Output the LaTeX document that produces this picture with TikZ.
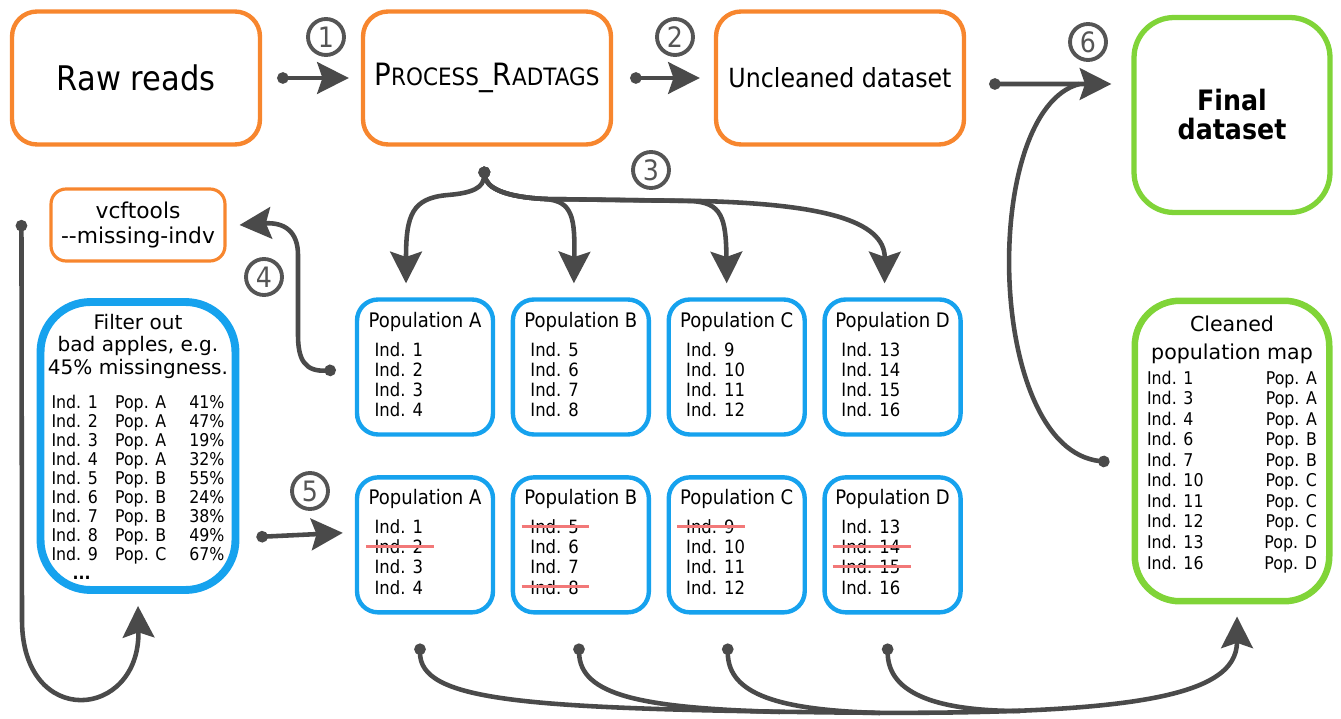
\documentclass[tikz,border=0pt]{standalone}
\usepackage{fontspec}
\setmainfont{DejaVu Sans}
\newfontfamily\condfont{DejaVu Sans}[FakeStretch=0.9]
\usetikzlibrary{arrows.meta, positioning}

\definecolor{radorange}{RGB}{247,134,46}
\definecolor{radblue}{RGB}{22,162,238}
\definecolor{radgreen}{RGB}{128,212,56}
\definecolor{linkgray}{RGB}{74,74,74}
\definecolor{numgray}{RGB}{85,85,85}
\definecolor{strikered}{RGB}{242,120,120}

% crossed out individuals
\newcommand{\struck}[1]{\setbox0\hbox{#1}#1\kern-\wd0\kern-5pt\textcolor{strikered}{\rule[0.32em]{\dimexpr\wd0+11pt\relax}{1.7pt}}\kern-6pt}
\newcommand{\poptitle}[1]{\multicolumn{1}{@{}l@{}}{\fontsize{11.4}{13}\selectfont Population #1}}

\begin{document}
\begin{tikzpicture}[x=0.02cm, y=0.02cm]
    \tikzstyle{stage} = [rectangle, rounded corners=0.5cm, minimum width=4.96cm, minimum height=2.66cm, draw=radorange, line width=2.5pt, text centered, font=\condfont\fontsize{15}{18}\selectfont]
    \tikzstyle{tool} = [rectangle, rounded corners=0.3cm, minimum width=3.48cm, minimum height=1.44cm, draw=radorange, line width=1.8pt, align=center, font=\fontsize{12.4}{14.2}\selectfont]
    \tikzstyle{filterbox} = [rectangle, rounded corners=1cm, minimum width=3.9cm, minimum height=5.76cm, draw=radblue, line width=4.5pt, align=center, inner sep=0pt, font=\fontsize{11.4}{12.8}\selectfont]
    \tikzstyle{pop} = [rectangle, rounded corners=0.42cm, minimum width=2.72cm, minimum height=2.7cm, draw=radblue, line width=2.5pt, inner sep=0pt, font=\condfont\fontsize{10.4}{11.4}\selectfont]
    \tikzstyle{goal} = [rectangle, rounded corners=0.8cm, draw=radgreen, line width=3pt, align=center]
    \tikzstyle{stepnum} = [circle, draw=numgray, line width=2.2pt, minimum size=0.72cm, inner sep=0pt, text=numgray, font=\condfont\fontsize{16}{16}\selectfont]
    \tikzstyle{flow} = [draw=linkgray, line width=2.6pt, {Circle[length=6.5pt]}-{Stealth[length=18pt, width=18pt, inset=3pt]}]
    \tikzstyle{dotlink} = [draw=linkgray, line width=2.6pt, {Circle[length=6.5pt]}-]

    \useasboundingbox (0,0) rectangle (1341,-719);

    \node (raw) [stage, font=\condfont\fontsize{19.3}{22}\selectfont] at (136,-78) {Raw reads};
    \node (proc) [stage, font=\condfont\fontsize{17.5}{20}\selectfont] at (487,-78) {P{\fontsize{13.6}{16}\selectfont ROCESS}\_R{\fontsize{13.6}{16}\selectfont ADTAGS}};
    \node (uncl) [stage] at (840,-78) {Uncleaned dataset};
    \node (final) [goal, minimum width=3.92cm, minimum height=3.9cm, font=\condfont\bfseries\fontsize{16}{16.5}\selectfont] at (1232,-115) {Final\\dataset};
    \node (vcf) [tool] at (138,-225) {vcftools\\-{}-missing-indv};
    \node (filter) [filterbox] at (138,-446) {\rule{0pt}{13pt}Filter out\\bad apples, e.g.\\45\% missingness.\\[6.5pt]
        \condfont\fontsize{10}{10.8}\selectfont
        \begin{tabular}[t]{@{}l@{\hspace{9.7pt}}l@{\hspace{13pt}}r@{}}
            Ind. 1 & Pop. A & 41\%\\
            Ind. 2 & Pop. A & 47\%\\
            Ind. 3 & Pop. A & 19\%\\
            Ind. 4 & Pop. A & 32\%\\
            Ind. 5 & Pop. B & 55\%\\
            Ind. 6 & Pop. B & 24\%\\
            Ind. 7 & Pop. B & 38\%\\
            Ind. 8 & Pop. B & 49\%\\
            Ind. 9 & Pop. C & 67\%\\
            \hspace{12pt}\textbf{...} & &
        \end{tabular}};

    % populations before filtering
    \node (popA1) [pop] at (425,-367) {\begin{tabular}{@{\hspace{3.4pt}}l@{}}\poptitle{A}\\[5.1pt] Ind. 1\\ Ind. 2\\ Ind. 3\\ Ind. 4\end{tabular}};
    \node (popB1) [pop, right=0.31cm of popA1] {\begin{tabular}{@{\hspace{3.4pt}}l@{}}\poptitle{B}\\[5.1pt] Ind. 5\\ Ind. 6\\ Ind. 7\\ Ind. 8\end{tabular}};
    \node (popC1) [pop, right=0.31cm of popB1] {\begin{tabular}{@{\hspace{3.4pt}}l@{}}\poptitle{C}\\[5.1pt] Ind. 9\\ Ind. 10\\ Ind. 11\\ Ind. 12\end{tabular}};
    \node (popD1) [pop, right=0.31cm of popC1] {\begin{tabular}{@{\hspace{3.4pt}}l@{}}\poptitle{D}\\[5.1pt] Ind. 13\\ Ind. 14\\ Ind. 15\\ Ind. 16\end{tabular}};

    % populations after filtering
    \node (popA2) [pop, below=0.77cm of popA1] {\begin{tabular}{@{\hspace{3.4pt}}l@{}}\poptitle{A}\\[5.1pt] Ind. 1\\ \struck{Ind. 2}\\ Ind. 3\\ Ind. 4\end{tabular}};
    \node (popB2) [pop, right=0.31cm of popA2] {\begin{tabular}{@{\hspace{3.4pt}}l@{}}\poptitle{B}\\[5.1pt] \struck{Ind. 5}\\ Ind. 6\\ Ind. 7\\ \struck{Ind. 8}\end{tabular}};
    \node (popC2) [pop, right=0.31cm of popB2] {\begin{tabular}{@{\hspace{3.4pt}}l@{}}\poptitle{C}\\[5.1pt] \struck{Ind. 9}\\ Ind. 10\\ Ind. 11\\ Ind. 12\end{tabular}};
    \node (popD2) [pop, right=0.31cm of popC2] {\begin{tabular}{@{\hspace{3.4pt}}l@{}}\poptitle{D}\\[5.1pt] Ind. 13\\ \struck{Ind. 14}\\ \struck{Ind. 15}\\ Ind. 16\end{tabular}};

    \node (clean) [goal, minimum width=3.89cm, minimum height=6.01cm, rounded corners=0.9cm, line width=3.7pt, font=\fontsize{11.7}{16}\selectfont] at (1232,-451) {Cleaned\\population map\\[-2.3pt]
        \condfont\fontsize{10}{11.7}\selectfont
        \begin{tabular*}{3.4cm}[t]{@{}l@{\extracolsep{\fill}}r@{}}
            Ind. 1 & Pop. A\\
            Ind. 3 & Pop. A\\
            Ind. 4 & Pop. A\\
            Ind. 6 & Pop. B\\
            Ind. 7 & Pop. B\\
            Ind. 10 & Pop. C\\
            Ind. 11 & Pop. C\\
            Ind. 12 & Pop. C\\
            Ind. 13 & Pop. D\\
            Ind. 16 & Pop. D\\[6pt]
        \end{tabular*}};

    % step numbers
    \node (n1) [stepnum] at (326,-37) {1};
    \node (n2) [stepnum] at (675,-37) {2};
    \node (n3) [stepnum] at (651,-170) {3};
    \node (n4) [stepnum] at (264,-277) {4};
    \node (n5) [stepnum] at (310,-491) {5};
    \node (n6) [stepnum] at (1088,-42) {6};

    % steps 1, 2, 6
    \draw [flow] ([xshift=0.3cm]raw.east) -- ([xshift=-0.24cm]proc.west);
    \draw [flow] ([xshift=0.34cm]proc.east) -- ([xshift=-0.28cm]uncl.west);
    \draw [flow] ([xshift=0.46cm,yshift=-0.12cm]uncl.east) -- ([xshift=-0.4cm,yshift=0.62cm]final.west);
    \draw [dotlink] ([xshift=-0.44cm,yshift=-0.22cm]clean.west) .. controls (985,-450) and (980,-110) .. ([xshift=-1.04cm,yshift=0.62cm]final.west);

    % step 3
    \coordinate (split) at ([xshift=-0.06cm,yshift=-0.4cm]proc.south);
    \draw [flow] (split) .. controls (484,-188) and (472,-193) .. (448,-195) .. controls (412,-198) and (406,-215) .. ([xshift=-0.38cm,yshift=0.28cm]popA1.north);
    \draw [flow] (split) .. controls (486,-188) and (505,-197) .. (545,-199) .. controls (573,-201) and (575,-218) .. ([xshift=-0.14cm,yshift=0.28cm]popB1.north);
    \draw [flow] (split) .. controls (486,-188) and (505,-197) .. (545,-199) -- (690,-201) .. controls (722,-202) and (726,-218) .. ([xshift=-0.2cm,yshift=0.28cm]popC1.north);
    \draw [flow] (split) .. controls (486,-188) and (505,-197) .. (545,-199) -- (700,-201) .. controls (820,-204) and (885,-220) .. ([xshift=-0.16cm,yshift=0.28cm]popD1.north);

    % step 4 and the loop back to the filter
    \draw [flow] ([xshift=-0.38cm,yshift=-0.06cm]popA1.west) .. controls (305,-372) and (298,-360) .. (298,-335) -- (298,-255) .. controls (298,-232) and (285,-222) .. ([xshift=0.26cm]vcf.east);
    \draw [flow] ([xshift=-0.56cm,yshift=0.1cm]vcf.west) -- (22,-620) .. controls (22,-730) and (140,-720) .. ([yshift=-0.24cm]filter.south);

    % step 5
    \draw [flow] ([xshift=0.34cm,yshift=-1.82cm]filter.east) -- ([xshift=-0.24cm,yshift=0.24cm]popA2.west);

    % filtered populations into the map
    \draw [flow] ([xshift=-0.1cm,yshift=-0.58cm]popA2.south) .. controls (420,-700) and (520,-708) .. (800,-712) .. controls (1120,-717) and (1237,-700) .. ([xshift=0.1cm,yshift=-0.24cm]clean.south);
    \draw [dotlink] ([xshift=-0.04cm,yshift=-0.58cm]popB2.south) .. controls (580,-695) and (640,-708) .. (780,-712);
    \draw [dotlink] ([xshift=-0.18cm,yshift=-0.58cm]popC2.south) .. controls (728,-695) and (780,-710) .. (880,-713);
    \draw [dotlink] ([xshift=-0.1cm,yshift=-0.58cm]popD2.south) .. controls (888,-695) and (940,-711) .. (1020,-711);
\end{tikzpicture}
\end{document}
